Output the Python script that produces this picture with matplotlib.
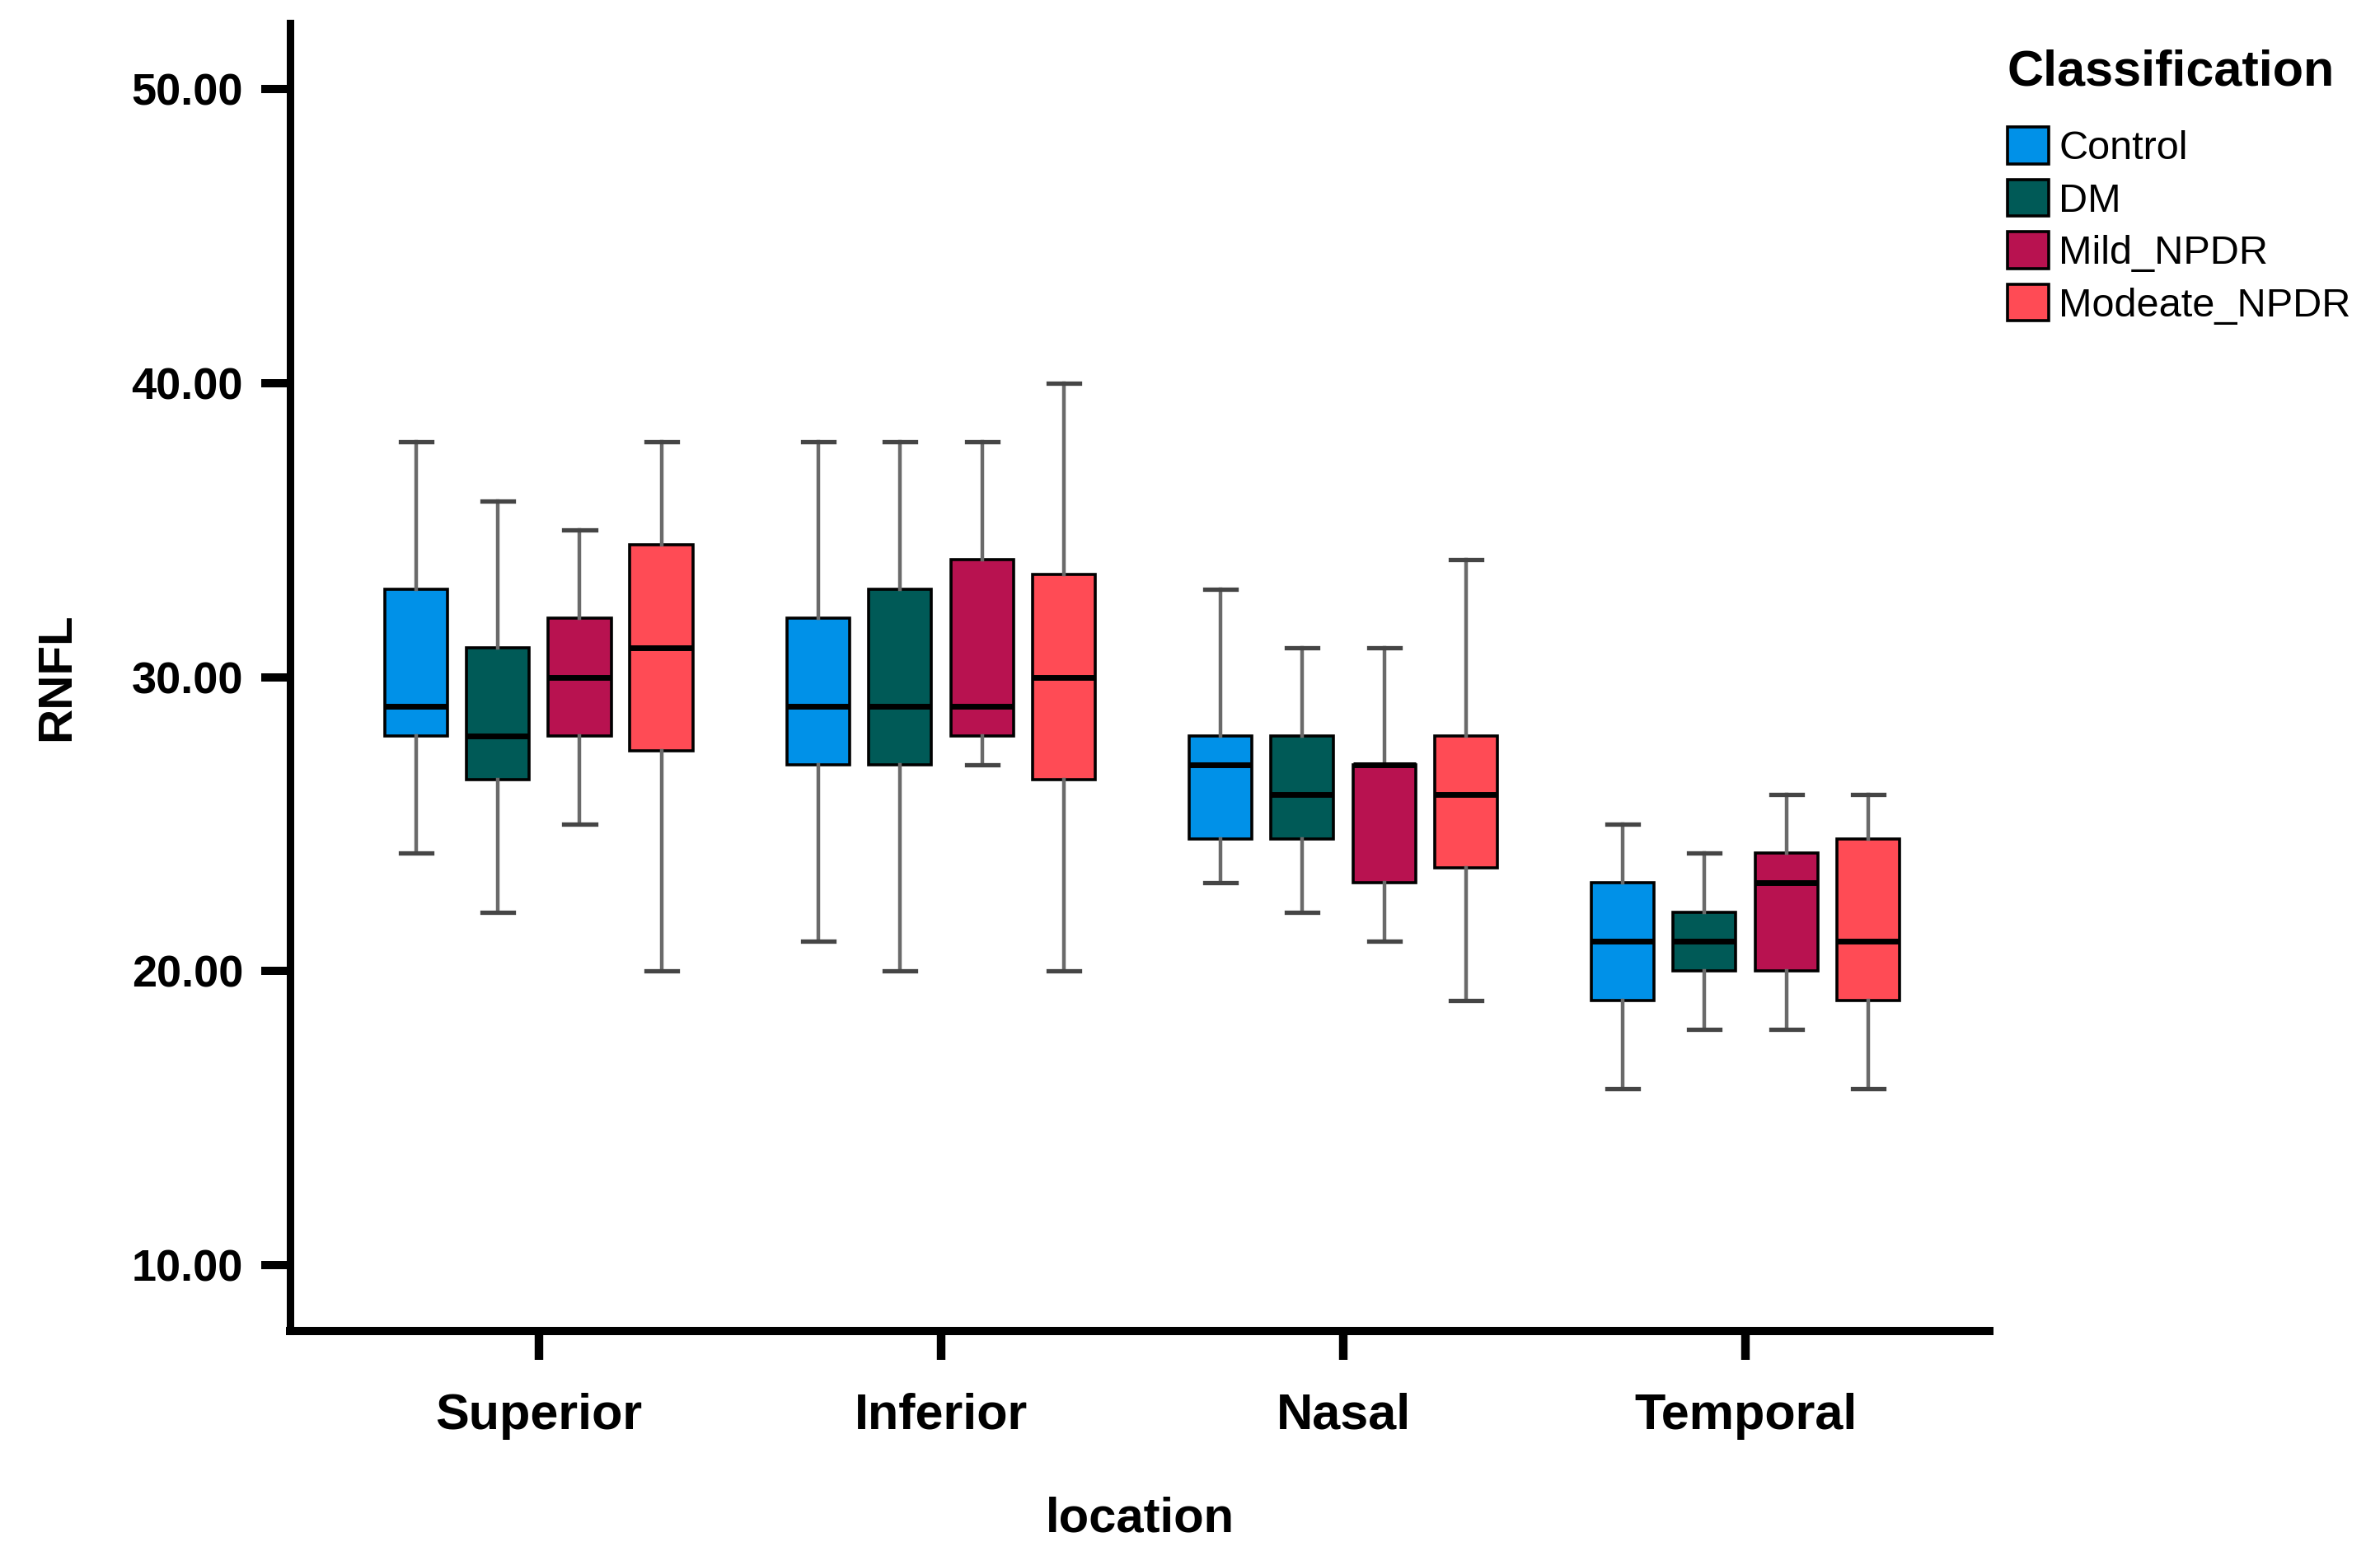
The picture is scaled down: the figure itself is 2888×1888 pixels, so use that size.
import matplotlib
matplotlib.use("Agg")
import matplotlib.pyplot as plt
from matplotlib.patches import Patch
import numpy as np

plt.rcParams['font.family'] = ['Liberation Sans', 'DejaVu Sans']

locations = ["Superior", "Inferior", "Nasal", "Temporal"]
groups = ["Control", "DM", "Mild_NPDR", "Modeate_NPDR"]
colors = ["#0091E8", "#005A57", "#B81250", "#FF4B55"]

# per group: values for each location [Superior, Inferior, Nasal, Temporal]
whislo = {
    "Control":      [24, 21, 23, 16],
    "DM":           [22, 20, 22, 18],
    "Mild_NPDR":    [25, 27, 21, 18],
    "Modeate_NPDR": [20, 20, 19, 16],
}
q1 = {
    "Control":      [28, 27, 24.5, 19],
    "DM":           [26.5, 27, 24.5, 20],
    "Mild_NPDR":    [28, 28, 23, 20],
    "Modeate_NPDR": [27.5, 26.5, 23.5, 19],
}
med = {
    "Control":      [29, 29, 27, 21],
    "DM":           [28, 29, 26, 21],
    "Mild_NPDR":    [30, 29, 27, 23],
    "Modeate_NPDR": [31, 30, 26, 21],
}
q3 = {
    "Control":      [33, 32, 28, 23],
    "DM":           [31, 33, 28, 22],
    "Mild_NPDR":    [32, 34, 27, 24],
    "Modeate_NPDR": [34.5, 33.5, 28, 24.5],
}
whishi = {
    "Control":      [38, 38, 33, 25],
    "DM":           [36, 38, 31, 24],
    "Mild_NPDR":    [35, 38, 31, 26],
    "Modeate_NPDR": [38, 40, 34, 26],
}
yticks = [10, 20, 30, 40, 50]

fig = plt.figure(figsize=(28.88, 18.88), dpi=100)
ax = fig.add_axes([352/2888, 1 - 1615/1888, (2414-352)/2888, (1615-28)/1888])

offsets = [-0.305, -0.102, 0.102, 0.305]
box_w = 0.156
for gi, g in enumerate(groups):
    stats = []
    for li in range(len(locations)):
        stats.append(dict(whislo=whislo[g][li], q1=q1[g][li], med=med[g][li],
                          q3=q3[g][li], whishi=whishi[g][li], fliers=[]))
    pos = np.arange(len(locations)) + offsets[gi]
    ax.bxp(stats, positions=pos, widths=box_w, patch_artist=True, showfliers=False,
           boxprops=dict(facecolor=colors[gi], edgecolor="black", linewidth=2.6),
           medianprops=dict(color="black", linewidth=5.0, solid_capstyle="butt"),
           whiskerprops=dict(color="#6a6a6a", linewidth=3.2),
           capprops=dict(color="#454545", linewidth=3.8),
           capwidths=box_w/2, manage_ticks=False, zorder=3)

ax.set_xlim(-0.618, 3.606)
ax.set_ylim(7.75, 52.25)
ax.set_xticks(np.arange(len(locations)))
ax.set_xticklabels(locations, fontsize=44, fontweight="bold")
ax.set_yticks(yticks)
ax.set_yticklabels([f"{v:.2f}" for v in yticks], fontsize=39, fontweight="bold")

for s in ["top", "right"]:
    ax.spines[s].set_visible(False)
ax.spines["left"].set_linewidth(6.5)
ax.spines["bottom"].set_linewidth(7.2)
ax.tick_params(axis="y", length=25, width=7.2, pad=16)
ax.tick_params(axis="x", length=25, width=7.5, pad=29)

ax.set_xlabel("location", fontsize=43, fontweight="bold")
ax.set_ylabel("RNFL", fontsize=42, fontweight="bold")
ax.xaxis.set_label_coords(0.5, -(1843-1615)/(1615-28))
ax.xaxis.label.set_va("center")
ax.yaxis.set_label_coords((69-352)/(2414-352), 0.5)
ax.yaxis.label.set_va("center")

handles = [Patch(facecolor=c, edgecolor="black", linewidth=2.6) for c in colors]
leg = fig.legend(handles, groups, loc="upper left", bbox_to_anchor=(2436/2888, 1 - 60/1888),
                 frameon=False, fontsize=35, title="Classification",
                 title_fontproperties=dict(size=44, weight="bold"),
                 handlelength=1.03, handleheight=1.03, handletextpad=0.25,
                 labelspacing=0.3, borderpad=0, borderaxespad=0, alignment="left")
try:
    leg._legend_box.sep = 27
except Exception:
    pass

fig.savefig("out.png", dpi=100, facecolor="white")
